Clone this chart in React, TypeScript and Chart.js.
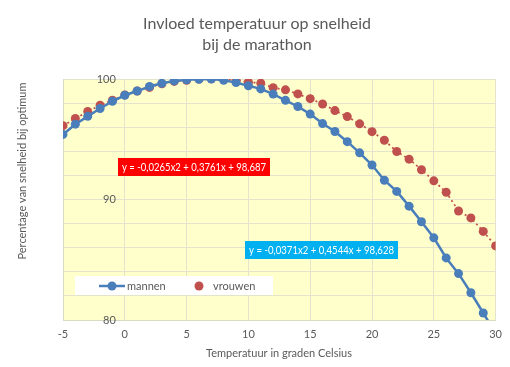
import React, { useEffect, useRef } from "react";
import { Chart, registerables } from "chart.js";

Chart.register(...registerables);

const TITLE_LINES = ["Invloed temperatuur op snelheid", "bij de marathon"];
const X_TITLE = "Temperatuur in graden Celsius";
const Y_TITLE = "Percentage van snelheid bij optimum";

const temps = [-5, -4, -3, -2, -1, 0, 1, 2, 3, 4, 5, 6, 7, 8, 9, 10, 11, 12, 13, 14, 15, 16, 17, 18, 19, 20, 21, 22, 23, 24, 25, 26, 27, 28, 29, 30];

const mannen = [95.4, 96.25, 96.9, 97.55, 98.15, 98.65, 99.0, 99.38, 99.65, 99.84, 99.93, 99.98, 100.0, 99.89, 99.7, 99.44, 99.18, 98.75, 98.23, 97.72, 97.09, 96.3, 95.64, 94.8, 93.87, 92.86, 91.6, 90.67, 89.45, 88.15, 86.82, 85.15, 83.85, 82.26, 80.58, 78.9];

const vrouwen = [96.13, 96.72, 97.3, 97.82, 98.24, 98.68, 99.0, 99.3, 99.6, 99.8, 99.9, 99.99, 100.02, 99.95, 99.9, 99.74, 99.66, 99.28, 99.1, 98.76, 98.37, 97.93, 97.38, 96.88, 96.28, 95.63, 94.92, 93.98, 93.35, 92.47, 91.55, 90.6, 89.05, 88.47, 87.35, 86.15];

const Y_LABELS = [80, 90, 100];
const EQ_VROUWEN = "y = -0,0265x2 + 0,3761x + 98,687";
const EQ_MANNEN = "y = -0,0371x2 + 0,4544x + 98,628";

const FONT = "Lato, 'Open Sans', sans-serif";
const TEXT = "#595959";
const BLUE = "#4a7ebb";
const RED = "#c0504d";

const decorPlugin = {
  id: "decor",
  beforeDraw(chart: any) {
    const { ctx, chartArea } = chart;
    ctx.save();
    ctx.fillStyle = "#ffffff";
    ctx.fillRect(0, 0, chart.width, chart.height);
    ctx.fillStyle = "#ffffcc";
    ctx.fillRect(chartArea.left, chartArea.top, chartArea.right - chartArea.left, chartArea.bottom - chartArea.top);
    ctx.restore();
  },
  afterDraw(chart: any) {
    const { ctx } = chart;
    const xs = chart.scales.x;
    const ys = chart.scales.y;
    ctx.save();
    // title
    ctx.fillStyle = TEXT;
    ctx.textAlign = "center";
    ctx.textBaseline = "middle";
    ctx.font = `16px ${FONT}`;
    ctx.fillText(TITLE_LINES[0], 257, 24);
    ctx.fillText(TITLE_LINES[1], 257, 45);
    // y tick labels at x = 0 axis
    ctx.font = `11px ${FONT}`;
    ctx.textAlign = "right";
    const x0 = xs.getPixelForValue(0);
    Y_LABELS.forEach((v) => {
      ctx.fillText(String(v), x0 - 9, ys.getPixelForValue(v));
    });
    // axis titles
    ctx.textAlign = "center";
    ctx.font = `11px ${FONT}`;
    ctx.fillText(X_TITLE, 279, 353);
    ctx.save();
    ctx.translate(22, 171);
    ctx.rotate(-Math.PI / 2);
    ctx.fillText(Y_TITLE, 0, 0);
    ctx.restore();
    // equation boxes
    const drawBox = (text: string, left: number, cy: number, boxW: number, bg: string) => {
      ctx.font = `11px ${FONT}`;
      const tw = ctx.measureText(text).width;
      const target = boxW - 8;
      const k = target / tw;
      ctx.fillStyle = bg;
      ctx.fillRect(left, cy - 9, boxW, 18);
      ctx.fillStyle = "#ffffff";
      ctx.textAlign = "left";
      ctx.save();
      ctx.translate(left + 4, cy + 0.5);
      ctx.scale(k, 1);
      ctx.fillText(text, 0, 0);
      ctx.restore();
    };
    drawBox(EQ_VROUWEN, 118, 167, 152, "#ff0000");
    drawBox(EQ_MANNEN, 245, 250, 153, "#00b0f0");
    // legend
    ctx.fillStyle = "#ffffff";
    ctx.fillRect(75, 276, 198, 19);
    const ly = 286;
    ctx.strokeStyle = BLUE;
    ctx.lineWidth = 2.5;
    ctx.beginPath();
    ctx.moveTo(99, ly);
    ctx.lineTo(125, ly);
    ctx.stroke();
    ctx.fillStyle = BLUE;
    ctx.beginPath();
    ctx.arc(112, ly, 4.5, 0, Math.PI * 2);
    ctx.fill();
    ctx.fillStyle = RED;
    ctx.beginPath();
    ctx.arc(199, ly, 4.5, 0, Math.PI * 2);
    ctx.fill();
    ctx.fillStyle = TEXT;
    ctx.textAlign = "left";
    ctx.font = `11px ${FONT}`;
    ctx.fillText(chart.data.datasets[0].label, 127, ly);
    ctx.fillText(chart.data.datasets[1].label, 213, ly);
    ctx.restore();
  },
};

export default function App() {
  const ref = useRef<HTMLCanvasElement | null>(null);
  useEffect(() => {
    if (!ref.current) return;
    const chart = new Chart(ref.current, {
      type: "line",
      data: {
        datasets: [
          {
            label: "mannen",
            data: temps.map((t, i) => ({ x: t, y: mannen[i] })),
            borderColor: BLUE,
            backgroundColor: BLUE,
            borderWidth: 2.5,
            pointRadius: 4.5,
            pointBorderWidth: 0,
            pointBackgroundColor: BLUE,
            tension: 0,
          },
          {
            label: "vrouwen",
            data: temps.map((t, i) => ({ x: t, y: vrouwen[i] })),
            borderColor: RED,
            backgroundColor: RED,
            borderWidth: 1.75,
            borderDash: [2, 3],
            pointRadius: 4.5,
            pointBorderWidth: 0,
            pointBackgroundColor: RED,
            tension: 0,
          },
        ],
      },
      options: {
        responsive: false,
        animation: false,
        layout: { padding: { left: 63, top: 79, right: 14, bottom: 27 } },
        plugins: { legend: { display: false }, title: { display: false }, tooltip: { enabled: false } },
        scales: {
          x: {
            type: "linear",
            min: -5,
            max: 30,
            afterFit: (s: any) => { s.height = 20; },
            ticks: { stepSize: 5, color: TEXT, font: { family: FONT, size: 11 }, padding: 8 },
            grid: { color: "#e4e4cc", drawTicks: false, lineWidth: 1 },
            border: { color: "#d9d9c4" },
          },
          y: {
            type: "linear",
            min: 80,
            max: 100,
            afterFit: (s: any) => { s.width = 0; },
            ticks: { stepSize: 2, display: false },
            grid: { color: "#e4e4cc", drawTicks: false, lineWidth: 1 },
            border: { color: "#d9d9c4" },
          },
        },
      },
      plugins: [decorPlugin],
    } as any);
    return () => chart.destroy();
  }, []);
  return (
    <div style={{ position: "fixed", left: 0, top: 0, width: 510, height: 367, background: "#fff" }}>
      <canvas ref={ref} width={510} height={367} style={{ width: 510, height: 367 }} />
    </div>
  );
}
